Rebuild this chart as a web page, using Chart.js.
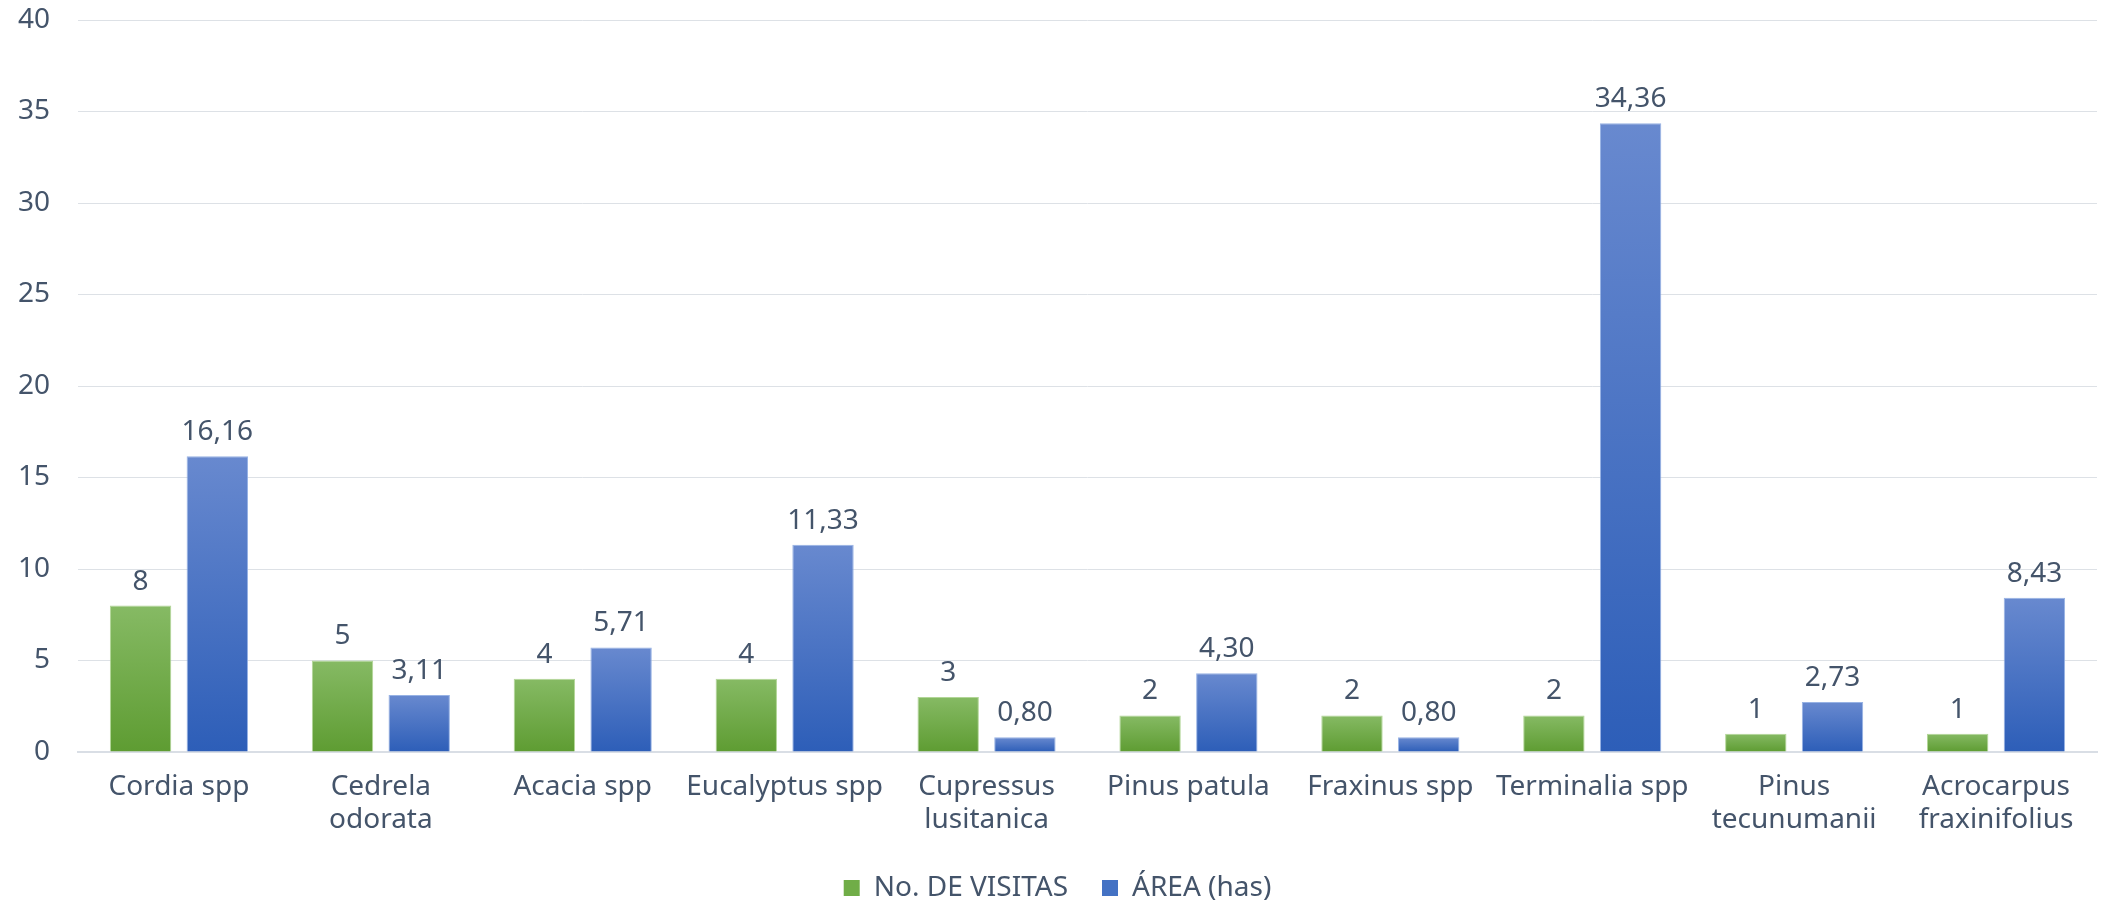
<!DOCTYPE html>
<html>
<head>
<meta charset="utf-8">
<script src="https://cdn.jsdelivr.net/npm/chart.js@4/dist/chart.umd.min.js"></script>
<style>
    html, body { margin: 0; padding: 0; background: #ffffff; }
    #wrap { width: 2103px; height: 900px; position: relative; }
</style>
</head>
<body>
<div id="wrap"><canvas id="speciesChart"></canvas></div>
<script>
// Visitas y área por especie
const categories = [
    'Cordia spp',
    ['Cedrela', 'odorata'],
    'Acacia spp',
    'Eucalyptus spp',
    ['Cupressus', 'lusitanica'],
    'Pinus patula',
    'Fraxinus spp',
    'Terminalia spp',
    ['Pinus', 'tecunumanii'],
    ['Acrocarpus', 'fraxinifolius']
];
const visitas = [8, 5, 4, 4, 3, 2, 2, 2, 1, 1];
const area = [16.16, 3.11, 5.71, 11.33, 0.80, 4.30, 0.80, 34.36, 2.73, 8.43];
const yTicks = [0, 5, 10, 15, 20, 25, 30, 35, 40];

const textColor = '#44546A';
const fontSize = 28;

// vertical gradient per bar, lighter on top
const barGradient = (top, bottom, solid) => (context) => {
    const chart = context.chart;
    if (!chart.chartArea || context.raw === undefined) return solid;
    const y = chart.scales.y;
    const yTop = y.getPixelForValue(context.raw);
    const yBase = y.getPixelForValue(0);
    if (!isFinite(yTop) || !isFinite(yBase) || yTop === yBase) return solid;
    const g = chart.ctx.createLinearGradient(0, yTop, 0, yBase);
    g.addColorStop(0, top);
    g.addColorStop(1, bottom);
    return g;
};

const valueLabels = {
    id: 'valueLabels',
    afterDatasetsDraw(chart) {
        const ctx = chart.ctx;
        ctx.save();
        ctx.font = fontSize + "px 'Noto Sans', sans-serif";
        ctx.fillStyle = textColor;
        ctx.textAlign = 'center';
        ctx.textBaseline = 'bottom';
        chart.data.datasets.forEach((ds, i) => {
            const meta = chart.getDatasetMeta(i);
            meta.data.forEach((bar, j) => {
                const v = ds.data[j];
                const txt = i === 0 ? String(v) : v.toFixed(2).replace('.', ',');
                ctx.fillText(txt, bar.x, bar.y - 10);
            });
        });
        ctx.restore();
    }
};

// wide gap between legend items but a short legend box
const legendFit = {
    id: 'legendFit',
    beforeLayout(chart) {
        const legend = chart.legend;
        if (!legend || legend._patched) return;
        const fit = legend.fit;
        legend.fit = function () {
            fit.call(this);
            this.height = 60;
        };
        legend._patched = true;
    }
};

Chart.defaults.font.family = "'Noto Sans', sans-serif";
Chart.defaults.font.size = fontSize;
Chart.defaults.color = textColor;

new Chart(document.getElementById('speciesChart'), {
    type: 'bar',
    data: {
        labels: categories,
        datasets: [
            {
                label: 'No. DE VISITAS',
                data: visitas,
                backgroundColor: barGradient('#86BA64', '#5E9C32', '#70AD47'),
                borderColor: 'rgba(170, 210, 140, 0.9)',
                borderWidth: 1,
                borderSkipped: 'bottom',
                categoryPercentage: 0.76,
                barPercentage: 0.80
            },
            {
                label: 'ÁREA (has)',
                data: area,
                backgroundColor: barGradient('#6889CF', '#2D5EB8', '#4472C4'),
                borderColor: 'rgba(140, 170, 225, 0.9)',
                borderWidth: 1,
                borderSkipped: 'bottom',
                categoryPercentage: 0.76,
                barPercentage: 0.80
            }
        ]
    },
    options: {
        responsive: true,
        maintainAspectRatio: false,
        animation: false,
        layout: { padding: { left: 18, right: 6, top: 20, bottom: 0 } },
        plugins: {
            legend: {
                position: 'bottom',
                labels: {
                    boxWidth: 16,
                    boxHeight: 16,
                    padding: 34,
                    color: textColor,
                    generateLabels: (chart) => {
                        const solids = ['#70AD47', '#4472C4'];
                        return Chart.defaults.plugins.legend.labels.generateLabels(chart).map((item, i) => {
                            item.fillStyle = solids[i];
                            item.strokeStyle = solids[i];
                            item.lineWidth = 0;
                            return item;
                        });
                    }
                }
            },
            tooltip: { enabled: false }
        },
        scales: {
            x: {
                grid: { display: false, drawTicks: false },
                border: { color: '#D9DEE5', width: 2 },
                ticks: { color: textColor, padding: 18, maxRotation: 0, autoSkip: false },
                afterFit: (axis) => {
                    axis.height = 88;
                    axis.paddingLeft = 0;
                    axis.paddingRight = 0;
                }
            },
            y: {
                min: yTicks[0],
                max: yTicks[yTicks.length - 1],
                grid: { color: '#DDE1E6', lineWidth: 1, drawTicks: false },
                border: { display: false },
                ticks: { color: textColor, padding: 28, stepSize: yTicks[1] - yTicks[0] },
                afterFit: (axis) => {
                    axis.width = 60;
                    axis.paddingTop = 0;
                    axis.paddingBottom = 0;
                }
            }
        }
    },
    plugins: [valueLabels, legendFit]
});
</script>
</body>
</html>
